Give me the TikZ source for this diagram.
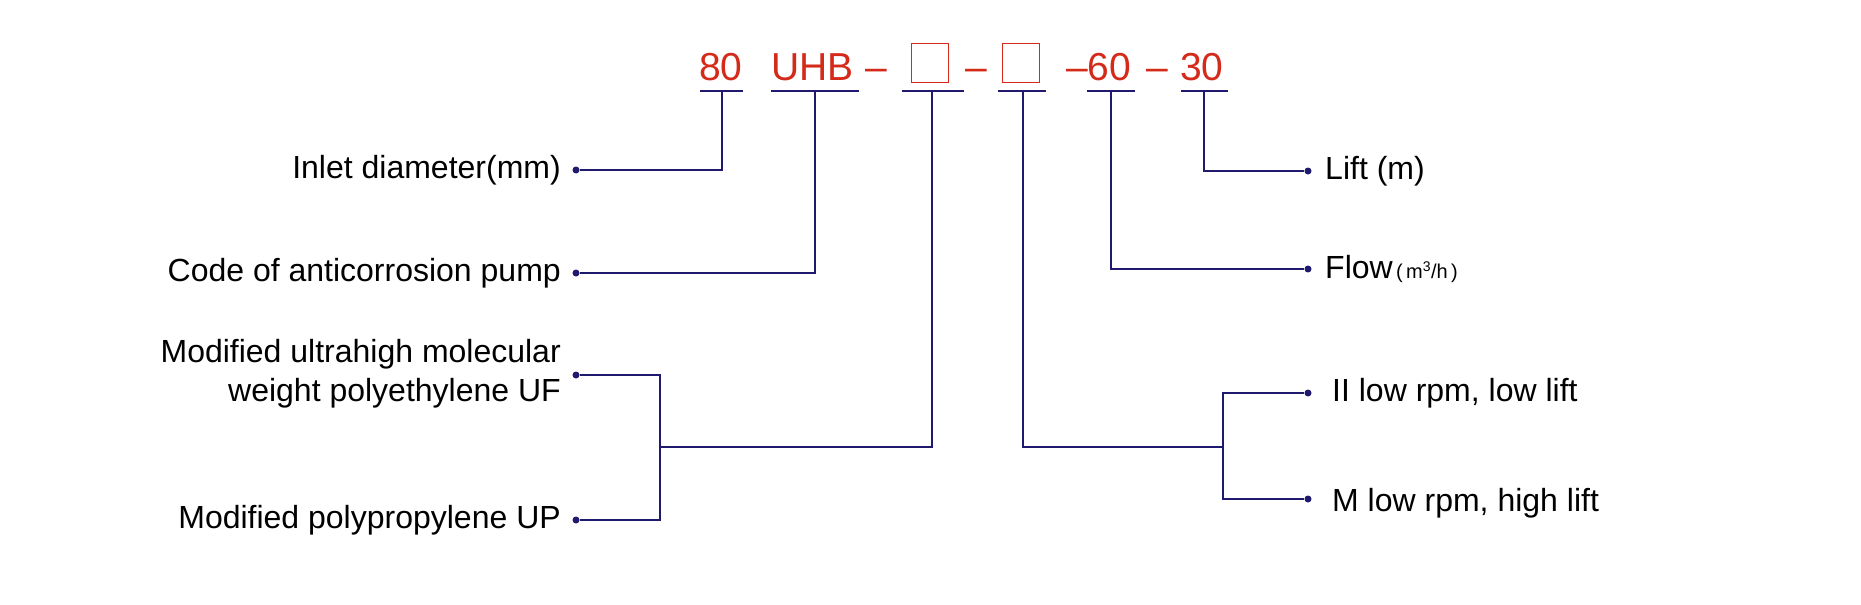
\documentclass[tikz,border=0pt]{standalone}
\usepackage{fontspec}
\setmainfont{Liberation Sans}
\begin{document}
\begin{tikzpicture}[x=1pt,y=-1pt,
  ln/.style={draw=navy,line width=1.8pt},
  dot/.style={circle,fill=navy,inner sep=0pt,minimum size=7pt},
  lbl/.style={font=\fontsize{32}{39}\selectfont,text=black,inner sep=0pt},
  code/.style={font=\fontsize{39}{44}\selectfont,text=redc,inner sep=0pt,anchor=base west}]
\definecolor{navy}{HTML}{1F1A6E}
\definecolor{redc}{HTML}{D42A1A}
\useasboundingbox (0,0) rectangle (1861,605);
% code texts
\node[code] (t80) at (699,80) {80};
\node[code] (tuhb) at (771,80) {UHB};
\node[code] (d1) at (865,80) {–};
\node[draw=redc,line width=1.6pt,minimum width=37pt,minimum height=39pt,inner sep=0pt] (b1) at (930,63) {};
\node[code] (d2) at (965,80) {–};
\node[draw=redc,line width=1.6pt,minimum width=37pt,minimum height=39pt,inner sep=0pt] (b2) at (1021,63) {};
\node[code] (t60) at (1066,80) {–60};
\node[code] (d3) at (1146,80) {–};
\node[code] (t30) at (1180,80) {30};
% underlines
\coordinate (u1a) at (700,91); \coordinate (u1b) at (743,91);
\coordinate (u2a) at (771,91); \coordinate (u2b) at (859,91);
\coordinate (u3a) at (902,91); \coordinate (u3b) at (964,91);
\coordinate (u4a) at (998,91); \coordinate (u4b) at (1046,91);
\coordinate (u5a) at (1087,91); \coordinate (u5b) at (1135,91);
\coordinate (u6a) at (1181,91); \coordinate (u6b) at (1228,91);
\foreach \i in {1,...,6} \draw[ln] (u\i a) -- (u\i b);
% dots and labels
\node[dot] (p1) at (576,170) {};
\node[lbl,anchor=east] (l1) at (561,170) {Inlet diameter(mm)};
\node[dot] (p2) at (576,273) {};
\node[lbl,anchor=east] (l2) at (561,273) {Code of anticorrosion pump};
\node[dot] (p3) at (576,375) {};
\node[lbl,anchor=east,align=right] (l3) at (561,374) {Modified ultrahigh molecular\\weight polyethylene UF};
\node[dot] (p4) at (576,520) {};
\node[lbl,anchor=east] (l4) at (561,520) {Modified polypropylene UP};
\node[dot] (q1) at (1308,171) {};
\node[lbl,anchor=west] (r1) at (1325,171) {Lift (m)};
\node[dot] (q2) at (1308,269) {};
\node[lbl,anchor=west] (r2) at (1325,269) {Flow{\fontsize{20}{24}\selectfont\,(\,m\textsuperscript{3}/h\,)}};
\node[dot] (q3) at (1308,393) {};
\node[lbl,anchor=west] (r3) at (1332,393) {II low rpm, low lift};
\node[dot] (q4) at (1308,499) {};
\node[lbl,anchor=west] (r4) at (1332,503) {M low rpm, high lift};
% connectors
\coordinate (v1) at (722,91); \coordinate (v2) at (815,91);
\coordinate (v3) at (932,91); \coordinate (v4) at (1023,91);
\coordinate (v5) at (1111,91); \coordinate (v6) at (1204,91);
\draw[ln] (v1) |- (p1);
\draw[ln] (v2) |- (p2);
\coordinate (bl) at (660,447);
\draw[ln] (p3) -| (660,520) -- (p4);
\draw[ln] (v3) |- (bl);
\coordinate (br) at (1223,447);
\draw[ln] (v4) |- (br);
\draw[ln] (q3) -| (1223,499) -- (q4);
\draw[ln] (v5) |- (q2);
\draw[ln] (v6) |- (q1);
\end{tikzpicture}
\end{document}
